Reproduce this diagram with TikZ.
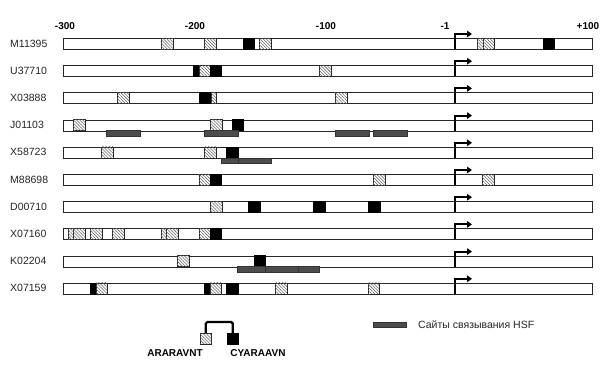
\documentclass[tikz,border=0pt]{standalone}
\usepackage{fontspec}
\setmainfont{Liberation Sans}
\usetikzlibrary{patterns.meta,arrows.meta}
\begin{document}
\begin{tikzpicture}[x=1pt,y=-1pt,
  bar/.style={draw=black!85,fill=white,line width=0.8pt},
  hatchb/.style={draw=black!85,line width=0.6pt,fill=white,postaction={pattern={Lines[angle=-45,distance=2.2pt,line width=0.55pt]},pattern color=black!60}},
  blackb/.style={draw=black,fill=black,line width=0.6pt},
  hsf/.style={draw=black!80,fill=black!70,line width=0.5pt},
  tss/.style={line width=2pt,-{Triangle[length=5pt,width=6.5pt]}},
  lbl/.style={font=\fontsize{10.5}{12}\selectfont,text=black!85,anchor=west,inner sep=0},
  axl/.style={font=\bfseries\fontsize{10}{12}\selectfont,inner sep=0},
  leg/.style={font=\bfseries\fontsize{10}{12}\selectfont,inner sep=0},
  ]
\useasboundingbox (0,0) rectangle (605,367);
\fill[white] (0,0) rectangle (605,367);
\newcommand\HB[3]{\path[hatchb] (#1,#3) rectangle (#2,#3+11);}
\newcommand\BB[3]{\path[blackb] (#1,#3) rectangle (#2,#3+11);}
\newcommand\HS[3]{\path[hsf] (#1,#3+11) rectangle (#2,#3+16.5);}
% axis labels
\node[axl] (a300) at (65,26) {-300};
\node[axl] (a200) at (195,26) {-200};
\node[axl] (a100) at (326,26) {-100};
\node[axl] (a1) at (445,26) {-1};
\node[axl] (ap100) at (588,26) {+100};
% rows
\foreach \nm/\t [count=\i] in {M11395/38,U37710/65.2,X03888/92.4,J01103/119.6,X58723/146.8,M88698/174,D00710/201.2,X07160/228.4,K02204/255.6,X07159/282.8}{
  \node[lbl] (lab\i) at (10,\t+5.5) {\nm};
  \node[bar,anchor=north west,minimum width=529pt,minimum height=11pt,inner sep=0] (bar\i) at (63,\t) {};
  \draw[tss] (455,\t+11) -- (455,\t-4) -- (472,\t-4);
}
% M11395
\HB{161}{173}{38}\HB{204}{216}{38}\BB{243}{254}{38}\HB{259}{271}{38}
\HB{477}{489}{38}\HB{483}{494}{38}\BB{543}{554}{38}
% U37710
\BB{193}{199}{65.2}\HB{199}{210}{65.2}\BB{210}{221}{65.2}\HB{319}{331}{65.2}
% X03888
\HB{117}{129}{92.4}\BB{199}{211}{92.4}\HB{211}{216}{92.4}\HB{335}{347}{92.4}
% J01103
\HB{73}{85}{119.6}\HB{210}{222}{119.6}\BB{232}{243}{119.6}
\HS{106}{140}{119.6}\HS{204}{238}{119.6}\HS{335}{369}{119.6}\HS{373}{407}{119.6}
% X58723
\HB{101}{113}{146.8}\HB{204}{216}{146.8}\BB{226}{238}{146.8}
\HS{221}{238}{146.8}\HS{238}{271}{146.8}
% M88698
\HB{199}{210}{174}\BB{210}{221}{174}\HB{373}{385}{174}\HB{482}{494}{174}
% D00710
\HB{210}{222}{201.2}\BB{248}{260}{201.2}\BB{313}{325}{201.2}\BB{368}{380}{201.2}
% X07160
\HB{68}{73}{228.4}\HB{73}{85}{228.4}\HB{90}{102}{228.4}\HB{112}{124}{228.4}
\HB{161}{166}{228.4}\HB{166}{178}{228.4}\HB{199}{210}{228.4}\BB{210}{221}{228.4}
% K02204
\HB{177}{189}{255.6}\BB{254}{265}{255.6}
\HS{237}{265}{255.6}\HS{265}{298}{255.6}\HS{298}{319}{255.6}
% X07159
\BB{90}{96}{282.8}\HB{96}{107}{282.8}\BB{204}{210}{282.8}\HB{210}{221}{282.8}
\BB{226}{238}{282.8}\HB{275}{287}{282.8}\HB{368}{379}{282.8}
% legend motif pair
\node[hatchb,anchor=north west,minimum width=11pt,minimum height=10.5pt,inner sep=0] (lh) at (200,333) {};
\node[blackb,anchor=north west,minimum width=11pt,minimum height=10.5pt,inner sep=0] (lb) at (227,333) {};
\draw[line width=2.2pt,rounded corners=1.5pt] (lh.north) -- ++(0,-11) -| (lb.north);
\node[leg] (t1) at (175,353) {ARARAVNT};
\node[leg] (t2) at (258,353) {CYARAAVN};
% legend HSF
\node[hsf,anchor=north west,minimum width=33pt,minimum height=5pt,inner sep=0] (lhsf) at (373,322) {};
\node[lbl] (thsf) at (418,325) {Сайты связывания HSF};
\end{tikzpicture}
\end{document}
